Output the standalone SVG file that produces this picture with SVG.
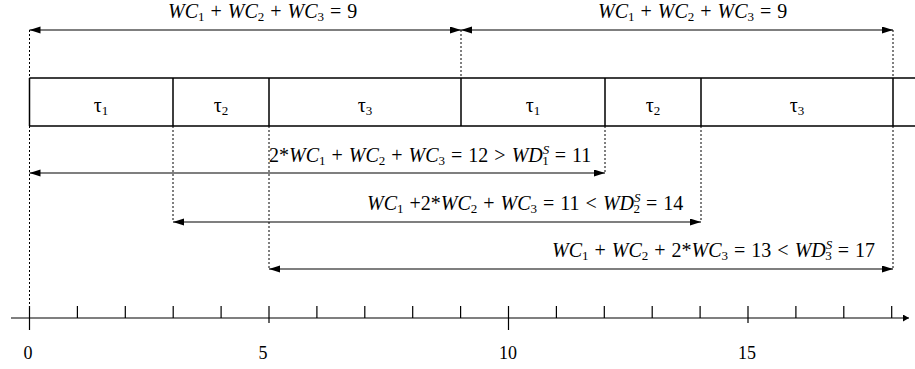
<svg xmlns="http://www.w3.org/2000/svg" width="915" height="369" viewBox="0 0 915 369">
<style>
.t{font-family:"Liberation Serif","Times New Roman",serif;font-size:18px;fill:#000}
.m{font-size:20px;word-spacing:1px}
.i{font-style:italic}
.s{font-size:13px}
.box{stroke:#000;stroke-width:1.5;fill:none}
.dot{stroke:#000;stroke-width:1;stroke-dasharray:2,2;fill:none}
.arr{stroke:#000;stroke-width:1.2;fill:none;marker-start:url(#ah);marker-end:url(#ah)}
.ax{stroke:#000;stroke-width:1.2;fill:none}
</style>
<defs>
<marker id="ah" markerUnits="userSpaceOnUse" markerWidth="12" markerHeight="8" refX="11" refY="3.5" orient="auto-start-reverse">
<path d="M0,0 L11,3.5 L0,7 z" fill="#000"/>
</marker>
<marker id="axh" markerUnits="userSpaceOnUse" markerWidth="10" markerHeight="8" refX="6" refY="3.5" orient="auto">
<path d="M0,0 L6,3.5 L0,7 z" fill="#000"/>
</marker>
</defs>

<g id="schedule">
<path class="box" d="M29.5,78 H915 M29.5,126 H915 M29.5,78 V126 M173,78 V126 M269,78 V126 M461,78 V126 M605,78 V126 M701,78 V126 M893,78 V126"/>
</g>
<g id="task1a"><text class="t m" x="101" y="112" text-anchor="middle">τ<tspan class="s" dy="3">1</tspan></text></g>
<g id="task2a"><text class="t m" x="221" y="112" text-anchor="middle">τ<tspan class="s" dy="3">2</tspan></text></g>
<g id="task3a"><text class="t m" x="365" y="112" text-anchor="middle">τ<tspan class="s" dy="3">3</tspan></text></g>
<g id="task1b"><text class="t m" x="533" y="112" text-anchor="middle">τ<tspan class="s" dy="3">1</tspan></text></g>
<g id="task2b"><text class="t m" x="653" y="112" text-anchor="middle">τ<tspan class="s" dy="3">2</tspan></text></g>
<g id="task3b"><text class="t m" x="797" y="112" text-anchor="middle">τ<tspan class="s" dy="3">3</tspan></text></g>

<g id="connectors">
<path class="dot" d="M29.5,30 V306 M461,30 V78 M893,30 V78 M173,126 V222 M269,126 V269 M605,126 V173 M701,126 V222 M893,126 V269"/>
<line class="arr" x1="29.5" y1="30" x2="461" y2="30"/>
<line class="arr" x1="461" y1="30" x2="893" y2="30"/>
<line class="arr" x1="29.5" y1="173" x2="605" y2="173"/>
<line class="arr" x1="173" y1="222" x2="701" y2="222"/>
<line class="arr" x1="269" y1="269" x2="893" y2="269"/>
</g>

<g id="labels">
<text class="t m" x="168" y="18"><tspan class="i">WC</tspan><tspan class="s" dy="3">1</tspan><tspan dy="-3"> + </tspan><tspan class="i">WC</tspan><tspan class="s" dy="3">2</tspan><tspan dy="-3"> + </tspan><tspan class="i">WC</tspan><tspan class="s" dy="3">3</tspan><tspan dy="-3"> = 9</tspan></text>
<text class="t m" x="598" y="18"><tspan class="i">WC</tspan><tspan class="s" dy="3">1</tspan><tspan dy="-3"> + </tspan><tspan class="i">WC</tspan><tspan class="s" dy="3">2</tspan><tspan dy="-3"> + </tspan><tspan class="i">WC</tspan><tspan class="s" dy="3">3</tspan><tspan dy="-3"> = 9</tspan></text>
<text class="t m" x="269" y="162">2*<tspan class="i">WC</tspan><tspan class="s" dy="3">1</tspan><tspan dy="-3"> + </tspan><tspan class="i">WC</tspan><tspan class="s" dy="3">2</tspan><tspan dy="-3"> + </tspan><tspan class="i">WC</tspan><tspan class="s" dy="3">3</tspan><tspan dy="-3"> = 12 &gt; </tspan><tspan class="i">WD</tspan><tspan class="s i" dy="-8">S</tspan><tspan class="s" dx="-7" dy="11">1</tspan><tspan dy="-3"> = 11</tspan></text>
<text class="t m" x="367" y="210"><tspan class="i">WC</tspan><tspan class="s" dy="3">1</tspan><tspan dy="-3"> +2*</tspan><tspan class="i">WC</tspan><tspan class="s" dy="3">2</tspan><tspan dy="-3"> + </tspan><tspan class="i">WC</tspan><tspan class="s" dy="3">3</tspan><tspan dy="-3"> = 11 &lt; </tspan><tspan class="i">WD</tspan><tspan class="s i" dy="-8">S</tspan><tspan class="s" dx="-7" dy="11">2</tspan><tspan dy="-3"> = 14</tspan></text>
<text class="t m" x="552" y="257"><tspan class="i">WC</tspan><tspan class="s" dy="3">1</tspan><tspan dy="-3"> + </tspan><tspan class="i">WC</tspan><tspan class="s" dy="3">2</tspan><tspan dy="-3"> + 2*</tspan><tspan class="i">WC</tspan><tspan class="s" dy="3">3</tspan><tspan dy="-3"> = 13 &lt; </tspan><tspan class="i">WD</tspan><tspan class="s i" dy="-8">S</tspan><tspan class="s" dx="-7" dy="11">3</tspan><tspan dy="-3"> = 17</tspan></text>
</g>

<g id="axis">
<line class="ax" x1="11" y1="318" x2="909" y2="318" marker-end="url(#axh)"/>
<path class="ax" d="M29.5,306 V330 M77.4,306 V318 M125.3,306 V318 M173.2,306 V318 M221.1,306 V318 M269,306 V323 M316.9,306 V318 M364.8,306 V318 M412.7,306 V318 M460.6,306 V318 M508.5,306 V330 M556.4,306 V318 M604.3,306 V318 M652.2,306 V318 M700.1,306 V318 M748,306 V323 M795.9,306 V318 M843.8,306 V318 M891.7,306 V318"/>
<text class="t" x="28" y="359" text-anchor="middle">0</text>
<text class="t" x="263" y="359" text-anchor="middle">5</text>
<text class="t" x="508" y="359" text-anchor="middle">10</text>
<text class="t" x="747" y="359" text-anchor="middle">15</text>
</g>
</svg>
